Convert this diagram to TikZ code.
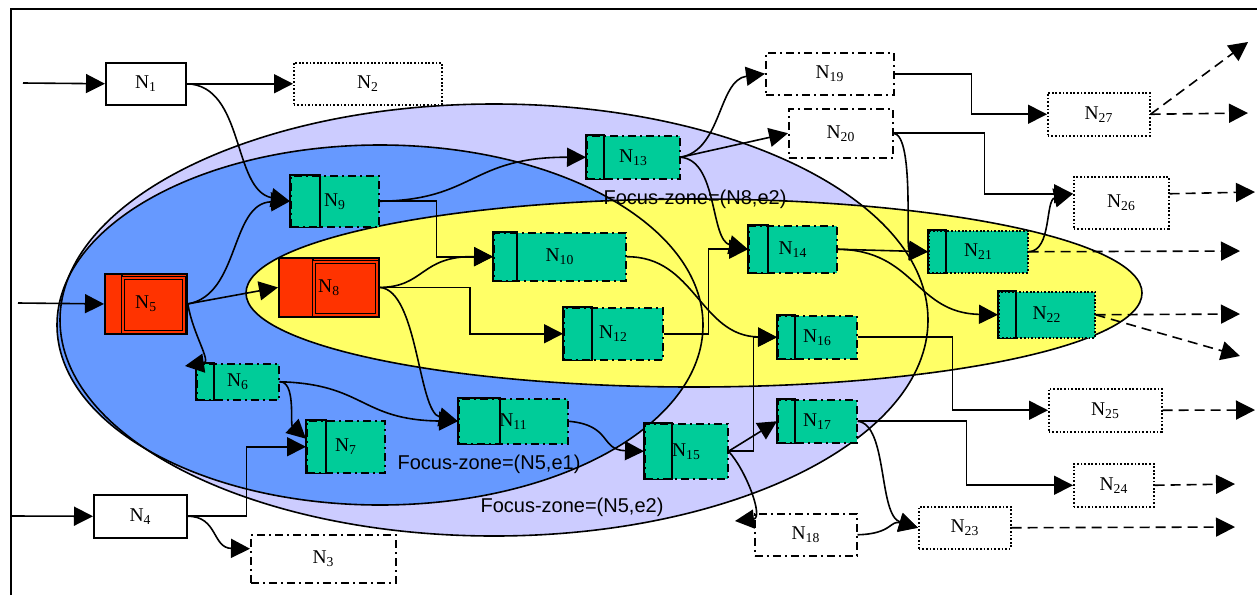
\documentclass[tikz,border=0pt]{standalone}
\usepackage{fontspec}
\setmainfont{Liberation Serif}
\newfontfamily\zonefont{Liberation Sans}
\usepackage{tikz}
\usetikzlibrary{arrows.meta}

\definecolor{zonelav}{RGB}{204,204,255}
\definecolor{zoneblue}{RGB}{102,153,255}
\definecolor{zoneyel}{RGB}{255,255,102}
\definecolor{unitgreen}{RGB}{0,204,153}
\definecolor{focusred}{RGB}{255,51,0}

\newcommand{\nlab}[1]{N\textsubscript{#1}}

\tikzset{
  nd/.style={draw, line width=1.5pt, fill=white, inner sep=0pt, anchor=north west,
    font=\fontsize{19.5}{19.5}\selectfont},
  sz/.style 2 args={minimum width=#1pt, minimum height=#2pt},
  dotbox/.style={nd, dash pattern=on 1.7pt off 1.9pt},
  dashdotbox/.style={nd, dash pattern=on 8pt off 4pt on 2pt off 4pt},
  unit/.style={dashdotbox, fill=unitgreen},
  unitdot/.style={dotbox, fill=unitgreen},
  focus/.style={nd, fill=focusred, line width=1.8pt},
  bar/.style={line width=1.5pt},
  flow/.style={-{Triangle[length=19pt,width=19pt]}, line width=1.6pt},
  exit/.style={flow, dash pattern=on 10pt off 6pt},
  zone/.style={line width=1.6pt},
  zonelabel/.style={font=\zonefont\fontsize{20}{20}\selectfont, inner sep=0pt}
}

\begin{document}
\begin{tikzpicture}[x=1pt,y=-1pt]
  \useasboundingbox (0,0) rectangle (1257,595);
  \draw[line width=1.6pt] (11,595) -- (11,9) -- (1257,9);

  % focus zones
  \fill[zonelav] (494,320) ellipse [x radius=434, y radius=216];
  \fill[zoneblue] (380,325) ellipse [x radius=323, y radius=180];
  \fill[zoneyel] (694,293) ellipse [x radius=448, y radius=94];
  \draw[zone] (494,320) ellipse [x radius=434, y radius=216];
  \draw[zone] (380,325) ellipse [x radius=323, y radius=180];
  \draw[zone] (694,293) ellipse [x radius=448, y radius=94];

  \node[zonelabel] (zn8) at (695,199) {Focus-zone=(N8,e2)};
  \node[zonelabel] (zn5a) at (489,464) {Focus-zone=(N5,e1)};
  \node[zonelabel] (zn5b) at (572,507) {Focus-zone=(N5,e2)};

  % nodes
  \node[nd, sz={80}{42}] (n1) at (105,62) {\nlab{1}};
  \node[dotbox, sz={148}{42}] (n2) at (293,62) {\nlab{2}};
  \node[dashdotbox, sz={145}{48}] (n3) at (250,534) {\nlab{3}};
  \node[nd, sz={93}{43}] (n4) at (93,494) {\nlab{4}};
  \node[focus, sz={82}{60}] (n5) at (104,273) {\nlab{5}};
  \node[unit, sz={82}{36}] (n6) at (196,363) {\nlab{6}};
  \node[unit, sz={78}{52}] (n7) at (306,420) {\nlab{7}};
  \node[focus, sz={100}{59}] (n8) at (278,257) {\nlab{8}};
  \node[unit, sz={88}{51}] (n9) at (290,175) {\nlab{9}};
  \node[unit, sz={132}{48}] (n10) at (493,232) {\nlab{10}};
  \node[unit, sz={109}{45}] (n11) at (458,398) {\nlab{11}};
  \node[unit, sz={99}{52}] (n12) at (563,307) {\nlab{12}};
  \node[unit, sz={93}{43}] (n13) at (586,135) {\nlab{13}};
  \node[unit, sz={88}{47}] (n14) at (748,225) {\nlab{14}};
  \node[unit, sz={83}{55}] (n15) at (644,423) {\nlab{15}};
  \node[unit, sz={79}{43}] (n16) at (777,315) {\nlab{16}};
  \node[unit, sz={79}{43}] (n17) at (777,399) {\nlab{17}};
  \node[dashdotbox, sz={102}{42}] (n18) at (754,513) {\nlab{18}};
  \node[dashdotbox, sz={128}{42}] (n19) at (765,52) {\nlab{19}};
  \node[dashdotbox, sz={104}{49}] (n20) at (788,108) {\nlab{20}};
  \node[unitdot, sz={99}{42}] (n21) at (928,230) {\nlab{21}};
  \node[unitdot, sz={96}{46}] (n22) at (998,291) {\nlab{22}};
  \node[dotbox, sz={92}{42}] (n23) at (918,506) {\nlab{23}};
  \node[dotbox, sz={80}{43}] (n24) at (1073,463) {\nlab{24}};
  \node[dotbox, sz={113}{43}] (n25) at (1048,388) {\nlab{25}};
  \node[dotbox, sz={95}{52}] (n26) at (1073,176) {\nlab{26}};
  \node[dotbox, sz={102}{43}] (n27) at (1047,92) {\nlab{27}};

  \foreach \n/\b in {n6/18,n7/20,n9/30,n10/24,n11/42,n12/29,n13/18,n14/20,
                     n15/28,n16/18,n17/18,n21/18,n22/18}
    \draw[bar] (\n.north west) rectangle ([xshift=\b pt]\n.south west);

  \draw[line width=1.8pt] ([xshift=18pt]n5.north west) -- ([xshift=18pt]n5.south west);
  \draw[line width=1.3pt, double=focusred, double distance=1.5pt]
    ([xshift=19pt,yshift=-5pt]n5.north west) rectangle ([xshift=-4pt,yshift=3pt]n5.south east);
  \draw[line width=1.8pt] ([xshift=35pt]n8.north west) -- ([xshift=35pt]n8.south west);
  \draw[line width=1.3pt, double=focusred, double distance=1.5pt]
    ([xshift=36pt,yshift=-5pt]n8.north west) rectangle ([xshift=-3pt,yshift=3pt]n8.south east);

  % free ends
  \coordinate (in1) at (23,83);
  \coordinate (in5) at (18,303);
  \coordinate (in4) at (12,516);
  \coordinate (tip6) at ([xshift=-11pt,yshift=-3pt]n6.north west);
  \coordinate (tip18) at ([xshift=-19pt,yshift=-8pt]n18.north west);
  \coordinate (o1) at (1248,42);
  \coordinate (o2) at (1248,113);
  \coordinate (o3) at (1255,192);
  \coordinate (o4) at (1240,251);
  \coordinate (o5) at (1240,314);
  \coordinate (o6) at (1240,356);
  \coordinate (o7) at (1255,410);
  \coordinate (o8) at (1235,484);
  \coordinate (o9) at (1235,527);

  % connectors
  \draw[flow] (in1) -- (n1.west);
  \draw[flow] (n1.east) -- (n2.west);
  \draw[flow] (n1.east) .. controls (245,85) and (232,190) .. (n9.west);
  \draw[flow] (in5) -- (n5.west);
  \draw[flow] (n5.east) -- (n8.west);
  \draw[flow] (n5.east) .. controls (240,295) and (230,203) .. (n9.west);
  \draw[flow] (n5.east) .. controls (193,335) and (212,362) .. (tip6);
  \draw[flow] (n6.east) .. controls (296,381) and (290,424) .. ([yshift=8pt]n7.west);
  \draw[flow] (n6.east) .. controls (365,384) and (360,420) .. (n11.west);
  \draw[flow] (in4) -- (n4.west);
  \draw[flow] (n4.east) -- ++(59,0) |- (n7.west);
  \draw[flow] (n4.east) .. controls (218,516) and (212,548) .. ([yshift=10pt]n3.west);
  \draw[flow] (n8.east) .. controls (425,287) and (420,256) .. (n10.west);
  \draw[flow] (n9.east) -- ++(57,0) |- (n10.west);
  \draw[flow] (n9.east) .. controls (475,200) and (470,157) .. (n13.west);
  \draw[flow] (n8.east) -- ++(90,0) |- (n12.west);
  \draw[flow] (n8.east) .. controls (418,290) and (418,412) .. (n11.west);
  \draw[flow] (n10.east) .. controls (695,256) and (700,336) .. (n16.west);
  \draw[flow] (n12.east) -- ++(45,0) |- (n14.west);
  \draw[flow] (n13.east) .. controls (718,160) and (710,240) .. (n14.west);
  \draw[flow] (n13.east) .. controls (722,150) and (718,80) .. (n19.west);
  \draw[flow] (n13.east) -- (n20.west);
  \draw[flow] (n11.east) .. controls (612,425) and (600,450) .. (n15.west);
  \draw[flow] (n15.east) -- ++(25,0) |- (n16.west);
  \draw[flow] (n15.east) -- (n17.west);
  \draw[flow] (n15.east) .. controls (746,470) and (764,518) .. (tip18);
  \draw[flow] (n18.east) .. controls (892,534) and (890,520) .. (n23.west);
  \draw[flow] (n17.east) .. controls (888,424) and (878,515) .. (n23.west);
  \draw[flow] (n17.east) -- ++(109,0) |- (n24.west);
  \draw[flow] (n16.east) -- ++(95,0) |- (n25.west);
  \draw[flow] (n14.east) -- (n21.west);
  \draw[flow] (n14.east) .. controls (915,250) and (915,313) .. (n22.west);
  \draw[flow] (n20.east) .. controls (915,135) and (905,250) .. (n21.west);
  \draw[flow] (n20.east) -- ++(91,0) |- ([yshift=9pt]n26.west);
  \draw[flow] (n19.east) -- ++(77,0) |- (n27.west);
  \draw[flow] (n21.east) .. controls (1052,251) and (1045,200) .. ([yshift=9pt]n26.west);

  \draw[exit] (n27.east) -- (o1);
  \draw[exit] (n27.east) -- (o2);
  \draw[exit] ([yshift=9pt]n26.east) -- (o3);
  \draw[exit] (n21.east) -- (o4);
  \draw[exit] (n22.east) -- (o5);
  \draw[exit] (n22.east) -- (o6);
  \draw[exit] (n25.east) -- (o7);
  \draw[exit] (n24.east) -- (o8);
  \draw[exit] (n23.east) -- (o9);
\end{tikzpicture}
\end{document}
